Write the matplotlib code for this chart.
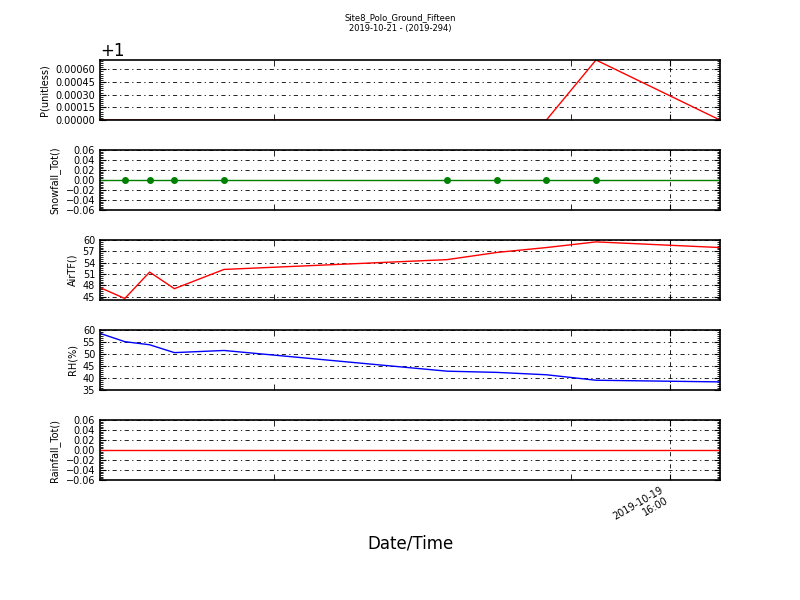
import numpy as np
import pandas as pd
import matplotlib
matplotlib.use('Agg')
import matplotlib.pyplot as plt
import matplotlib.dates as mdates
from matplotlib.ticker import MultipleLocator, FixedLocator, AutoMinorLocator, ScalarFormatter

## Values
times = pd.to_datetime(['2019-10-18 17:00', '2019-10-18 18:00', '2019-10-18 19:00',
                        '2019-10-18 20:00', '2019-10-18 22:00', '2019-10-19 07:00',
                        '2019-10-19 09:00', '2019-10-19 11:00', '2019-10-19 13:00',
                        '2019-10-19 18:00'])
pressure = [1.0, 1.0, 1.0, 1.0, 1.0, 1.0, 1.0, 1.0, 1.00071, 1.0]
snowfall = [0, 0, 0, 0, 0, 0, 0, 0, 0, 0]
air_tf = [47.4, 44.5, 51.5, 47.1, 52.2, 54.8, 56.7, 58.0, 59.5, 58.0]
rh = [58.6, 55.1, 53.8, 50.5, 51.4, 42.7, 42.2, 41.2, 38.9, 38.2]
rainfall = [0, 0, 0, 0, 0, 0, 0, 0, 0, 0]

pressure_ticks = [1.0, 1.00015, 1.0003, 1.00045, 1.0006]
labeled_tick = pd.to_datetime(['2019-10-19 16:00'])
other_ticks = pd.to_datetime(['2019-10-19 00:00', '2019-10-19 12:00'])

title = 'Site8_Polo_Ground_Fifteen\n2019-10-21 - (2019-294)'

fig, axes = plt.subplots(5, 1, figsize=(8, 6), dpi=100, sharex=True)
fig.subplots_adjust(left=0.125, right=0.9, bottom=0.2, top=0.9, hspace=0.5)

panels = [
    (pressure, 'r-', 'P(unitless)', (1.0, 1.00071), 0.00015),
    (snowfall, 'g-', 'Snowfall_Tot()', (-0.06, 0.06), 0.02),
    (air_tf, 'r-', 'AirTF()', (44.1, 60), 3),
    (rh, 'b-', 'RH(%)', (34.8, 60), 5),
    (rainfall, 'r-', 'Rainfall_Tot()', (-0.06, 0.06), 0.02),
]

grid_ls = (0, (5, 4, 1.5, 4))

for ax, (vals, style, label, lim, step) in zip(axes, panels):
    ax.plot(times, vals, style, lw=1)
    ax.set_xlim(times[0], times[-1])
    ax.set_ylim(*lim)
    ax.yaxis.set_major_locator(MultipleLocator(step))
    ax.yaxis.set_minor_locator(AutoMinorLocator(6))
    ax.set_ylabel(label, fontsize=7)
    ax.tick_params(axis='both', which='both', direction='in', top=True, right=True, labelsize=7)
    ax.tick_params(axis='y', which='major', length=4)
    ax.tick_params(axis='y', which='minor', length=2)
    ax.tick_params(axis='x', which='both', length=4)
    ax.set_xticks(labeled_tick)
    ax.set_xticks(other_ticks, minor=True)
    ax.xaxis.set_major_formatter(mdates.DateFormatter('%Y-%m-%d\n%H:%M'))
    ax.grid(True, which='major', color='k', linestyle=grid_ls, linewidth=0.6)
    for s in ax.spines.values():
        s.set_linewidth(1.2)

## snowfall markers on the inner samples
axes[1].lines[0].set_marker('o')
axes[1].lines[0].set_markersize(4)
axes[1].lines[0].set_markevery(list(range(1, len(times) - 1)))

## pressure ticks with +1 offset
axes[0].yaxis.set_major_locator(FixedLocator(pressure_ticks))
axes[0].yaxis.set_minor_locator(AutoMinorLocator(6))
fmt = ScalarFormatter(useOffset=1.0)
axes[0].yaxis.set_major_formatter(fmt)
axes[0].yaxis.get_offset_text().set_fontsize(12)

for lbl in axes[-1].get_xticklabels():
    lbl.set_rotation(30)
    lbl.set_ha('right')
    lbl.set_fontsize(7)

fig.suptitle(title, fontsize=6, y=0.978)
fig.text(0.513, 1 - 544 / 600., 'Date/Time', ha='center', va='center', fontsize=12)

fig.savefig('out.png', dpi=100)
